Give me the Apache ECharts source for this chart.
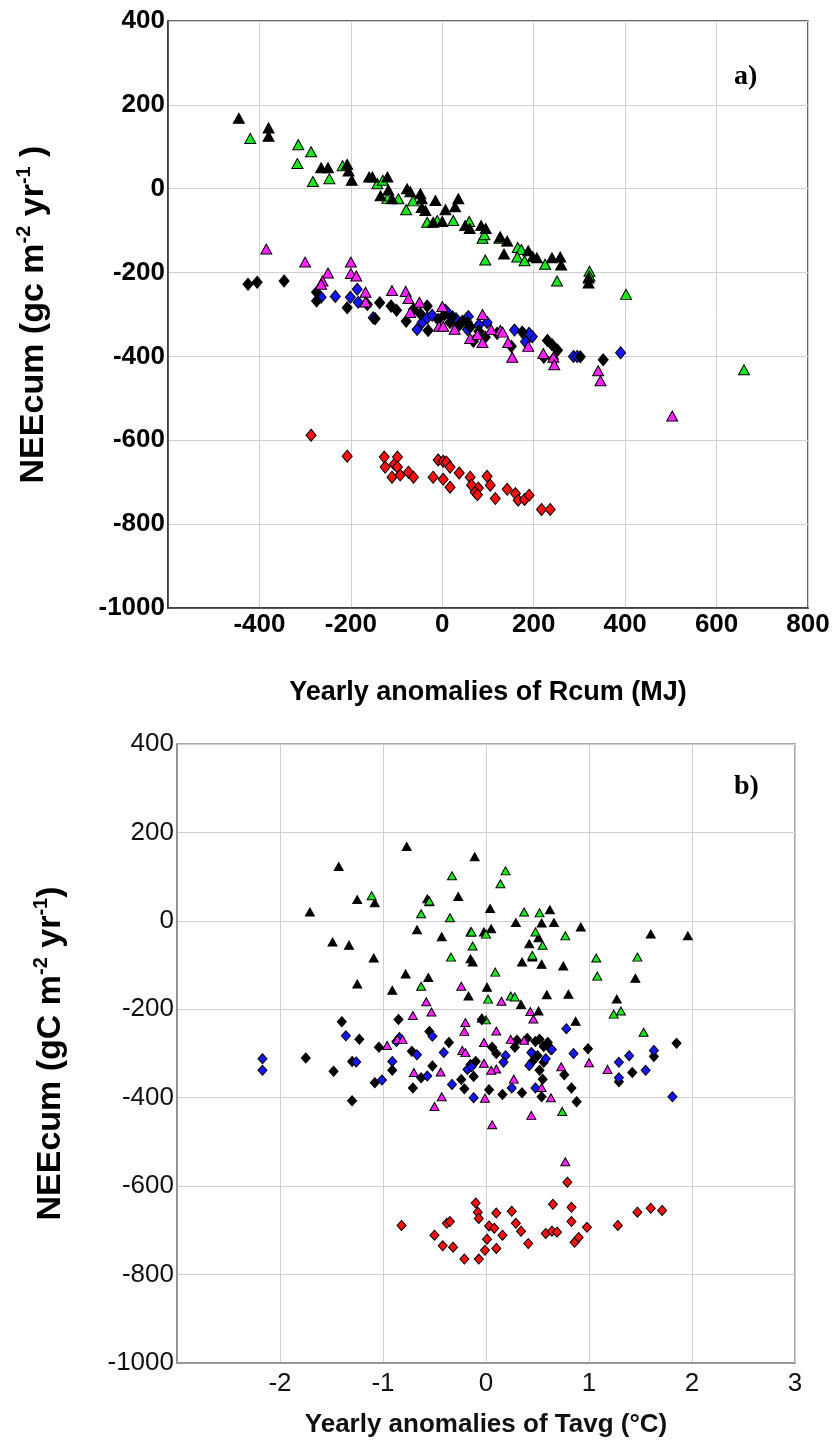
<!DOCTYPE html>
<html><head><meta charset="utf-8">
<script src="https://cdn.jsdelivr.net/npm/echarts@6/dist/echarts.min.js"></script>
<style>html,body{margin:0;padding:0;background:#fff}#c{width:833px;height:1442px}</style>
</head><body><div id="c"></div><script>
// Panel a: x = yearly anomalies of Rcum (MJ), y = NEEcum
const rcumBlackTri = [[-445,168],[-380,145],[-380,125],[-265,50],[-250,50],[-208,58],[-205,42],[-198,20],[-160,28],[-153,28],[-120,28],[-135,-17],[-118,-3],[-110,-24],[-77,0],[-70,-7],[-48,-12],[-45,-24],[-45,-45],[-37,-52],[-15,-28],[7,-50],[28,-43],[35,-24],[-20,-80],[0,-78],[50,-88],[60,-95],[85,-88],[95,-95],[127,-115],[142,-125],[135,-156],[188,-148],[198,-162],[207,-165],[240,-165],[258,-163],[260,-182],[320,-213],[320,-225]];
const rcumGreenTri = [[-420,120],[-315,105],[-317,60],[-287,88],[-283,17],[-247,24],[-218,55],[-142,12],[-130,20],[-120,-23],[-96,-24],[-79,-50],[-64,-29],[-33,-80],[-11,-76],[24,-76],[59,-78],[88,-118],[92,-110],[94,-170],[125,-118],[165,-140],[173,-145],[164,-163],[180,-172],[225,-180],[251,-220],[322,-197],[322,-208],[402,-252],[660,-432]];
const rcumMagentaTri = [[-385,-144],[-300,-175],[-250,-201],[-262,-220],[-265,-228],[-200,-175],[-200,-202],[-188,-208],[-168,-247],[-168,-270],[-110,-243],[-80,-245],[-74,-262],[-70,-295],[-50,-271],[0,-281],[-7,-328],[2,-328],[27,-335],[61,-357],[77,-348],[88,-300],[88,-367],[107,-336],[127,-338],[132,-342],[144,-367],[153,-402],[188,-376],[221,-393],[243,-402],[245,-420],[341,-434],[346,-458],[503,-542]];
const rcumBlackDia = [[-425,-228],[-405,-223],[-346,-220],[-275,-247],[-275,-268],[-208,-284],[-164,-276],[-137,-272],[-147,-310],[-112,-280],[-100,-290],[-79,-316],[-63,-288],[-48,-298],[-33,-280],[-31,-338],[-9,-312],[5,-300],[17,-319],[35,-328],[44,-316],[22,-305],[55,-319],[61,-330],[68,-364],[94,-354],[80,-340],[120,-345],[151,-376],[175,-342],[230,-362],[240,-372],[252,-385],[222,-402],[243,-406],[302,-401],[352,-408]];
const rcumBlueDia = [[-265,-259],[-234,-257],[-201,-259],[-186,-240],[-184,-271],[-151,-308],[-55,-336],[-44,-319],[-33,-308],[-22,-302],[7,-290],[11,-295],[30,-310],[57,-305],[55,-336],[98,-319],[80,-325],[158,-337],[182,-365],[197,-353],[190,-345],[287,-400],[295,-400],[390,-391]];
const rcumRedDia = [[-287,-588],[-208,-638],[-127,-640],[-125,-664],[-105,-657],[-98,-640],[-98,-664],[-110,-688],[-92,-683],[-74,-676],[-63,-688],[-20,-688],[-9,-647],[2,-650],[9,-652],[17,-664],[2,-693],[17,-712],[37,-678],[61,-688],[64,-707],[79,-714],[72,-724],[77,-730],[98,-686],[105,-707],[116,-739],[142,-717],[160,-727],[166,-743],[180,-741],[190,-731],[217,-765],[236,-765]];

// Panel b: x = yearly anomalies of Tavg (°C), y = NEEcum
const tavgBlackTri = [[-0.77,168],[-1.43,123],[-1.25,48],[-1.08,41],[-1.71,20],[-1.49,-48],[-1.33,-55],[-1.09,-84],[-0.78,-120],[-1.25,-143],[-0.91,-157],[-0.67,-20],[-0.11,145],[-0.57,50],[-0.55,43],[-0.27,55],[0.04,28],[-0.43,-36],[-0.15,-25],[-0.02,-25],[0.05,-18],[0.29,-4],[0.54,-5],[0.62,25],[0.66,-4],[0.92,-14],[0.42,-52],[0.51,-38],[0.35,-93],[0.45,-82],[0.54,-98],[0.75,-102],[-0.15,-86],[-0.13,-93],[1.60,-30],[1.96,-34],[1.45,-130],[-0.56,-128],[0.01,-150],[-0.17,-170],[1.27,-177],[0.59,-167],[0.80,-166],[0.34,-189],[0.51,-204],[0.87,-227],[-0.04,-220]];
const tavgGreenTri = [[-1.11,57],[-0.33,102],[0.19,113],[0.14,84],[-0.63,16],[-0.35,7],[-0.55,45],[0.37,20],[0.52,18],[-0.14,-25],[0.0,-30],[0.48,-25],[0.55,-55],[0.77,-34],[-0.13,-57],[-0.34,-82],[0.45,-78],[1.07,-84],[1.08,-125],[1.47,-82],[0.09,-116],[-0.63,-148],[0.02,-177],[0.24,-170],[0.28,-172],[1.24,-211],[1.31,-204],[0.0,-224],[1.53,-252],[0.74,-431]];
const tavgMagentaTri = [[-0.71,-214],[-0.96,-282],[-0.86,-268],[-0.70,-343],[-0.24,-148],[-0.58,-183],[-0.53,-206],[-0.20,-230],[-0.21,-250],[0.10,-249],[0.15,-182],[0.43,-205],[0.46,-222],[-0.02,-275],[0.24,-268],[0.37,-270],[-0.44,-342],[-0.23,-293],[-0.20,-298],[-0.43,-398],[-0.50,-420],[-0.02,-322],[0.10,-335],[0.05,-338],[-0.01,-401],[0.27,-358],[0.44,-440],[0.06,-461],[0.54,-377],[0.63,-400],[0.73,-330],[1.00,-321],[1.18,-336],[0.77,-545],[-0.81,-268]];
const tavgBlackDia = [[-1.40,-228],[-0.85,-223],[-1.23,-268],[-1.75,-310],[-1.30,-318],[-1.48,-340],[-1.04,-286],[-0.91,-338],[-1.08,-366],[-0.71,-378],[-1.30,-407],[-0.72,-295],[-0.55,-250],[-0.36,-275],[-0.52,-328],[-0.63,-355],[-0.21,-380],[-0.24,-359],[-0.15,-325],[-0.12,-352],[-0.10,-318],[0.03,-382],[0.16,-393],[0.06,-286],[0.10,-300],[0.30,-270],[0.40,-266],[0.45,-318],[0.35,-389],[0.45,-300],[0.52,-268],[0.56,-284],[0.60,-275],[0.50,-305],[0.52,-338],[0.55,-358],[0.54,-398],[0.83,-378],[0.88,-409],[0.99,-289],[0.76,-348],[0.63,-291],[1.29,-364],[1.42,-343],[1.63,-307],[1.85,-277],[-0.04,-223],[0.28,-286],[0.48,-273],[0.56,-320]];
const tavgBlueDia = [[-2.17,-312],[-2.17,-338],[-1.36,-260],[-1.26,-319],[-1.01,-360],[-0.91,-318],[-0.87,-273],[-0.84,-264],[-0.67,-303],[-0.52,-261],[-0.41,-298],[-0.57,-351],[-0.33,-370],[-0.18,-336],[-0.14,-330],[-0.12,-400],[0.19,-305],[0.17,-320],[0.25,-378],[0.48,-378],[0.42,-327],[0.44,-298],[0.58,-312],[0.64,-291],[0.78,-244],[0.85,-300],[1.29,-320],[1.29,-355],[1.39,-305],[1.55,-338],[1.63,-293],[1.81,-398]];
const tavgRedDia = [[-0.82,-689],[-0.38,-684],[-0.35,-680],[-0.50,-711],[-0.42,-735],[-0.32,-738],[-0.21,-765],[-0.07,-765],[-0.10,-638],[-0.08,-659],[-0.07,-673],[0.03,-690],[0.08,-695],[0.01,-720],[-0.01,-745],[0.10,-661],[0.16,-711],[0.10,-741],[0.25,-657],[0.29,-684],[0.34,-702],[0.41,-730],[0.65,-641],[0.58,-707],[0.64,-702],[0.69,-704],[0.79,-591],[0.83,-648],[0.83,-680],[0.98,-693],[0.86,-727],[0.90,-716],[1.28,-689],[1.47,-659],[1.60,-650],[1.71,-655]];

const xTitleA = 'Yearly anomalies of Rcum (MJ)';
const xTitleB = 'Yearly anomalies of Tavg (°C)';
const yTitleA = '{t|NEEcum (gc m}{s|-2}{t| yr}{s|-1}{t| )}';
const yTitleB = '{t|NEEcum (gC m}{s|-2}{t| yr}{s|-1}{t|)}';

const FONT = '"Liberation Sans", Arial, sans-serif';
const COL = {green:'#1ee61e', black:'#000000', magenta:'#ff22ff', blue:'#1515ff', red:'#ff1010'};

const chart = echarts.init(document.getElementById('c'), null, {renderer:'canvas'});
const fmt = v => String(v);
const yRich = {
  t:{fontSize:34, fontWeight:'bold', fontFamily:FONT, color:'#000', lineHeight:40},
  s:{fontSize:20, fontWeight:'bold', fontFamily:FONT, color:'#000', lineHeight:20, verticalAlign:'top'}
};
function sc(name, data, xi, sym, size, color){
  return {type:'scatter', name, data, xAxisIndex:xi, yAxisIndex:xi, symbol:sym, symbolSize:size,
    itemStyle:{color, borderColor:'#000', borderWidth:1, opacity:1}, emphasis:{disabled:true}, animation:false};
}
const triA=[11,10], diaA=[10,12], triB=[9,8], diaB=[9,10];
chart.setOption({
  animation:false,
  backgroundColor:'#fff',
  grid:[
    {left:168, top:21, width:640, height:587, show:true, borderColor:'#333', borderWidth:1.5},
    {left:177, top:744, width:618, height:619, show:true, borderColor:'#8a8a8a', borderWidth:1.5}
  ],
  xAxis:[
    {gridIndex:0, type:'value', min:-600, max:800, interval:200,
     axisLine:{show:true, onZero:false, lineStyle:{color:'#333', width:1.5}}, axisTick:{show:false},
     splitLine:{show:true, lineStyle:{color:'#d0d0d0', width:1}},
     axisLabel:{showMinLabel:false, formatter:fmt, fontFamily:FONT, fontWeight:'bold', fontSize:26, color:'#000', margin:4},
     name:xTitleA, nameLocation:'middle', nameGap:71,
     nameTextStyle:{fontFamily:FONT, fontWeight:'bold', fontSize:27, color:'#000'}},
    {gridIndex:1, type:'value', min:-3, max:3, interval:1,
     axisLine:{show:true, onZero:false, lineStyle:{color:'#8a8a8a', width:1.5}}, axisTick:{show:false},
     splitLine:{show:true, lineStyle:{color:'#d0d0d0', width:1}},
     axisLabel:{showMinLabel:false, formatter:fmt, fontFamily:FONT, fontSize:26, color:'#111', margin:8},
     name:xTitleB, nameLocation:'middle', nameGap:49,
     nameTextStyle:{fontFamily:FONT, fontWeight:'bold', fontSize:26, color:'#111'}}
  ],
  yAxis:[
    {gridIndex:0, type:'value', min:-1000, max:400, interval:200,
     axisLine:{show:true, onZero:false, lineStyle:{color:'#333', width:1.5}}, axisTick:{show:false},
     splitLine:{show:true, lineStyle:{color:'#d0d0d0', width:1}},
     axisLabel:{formatter:fmt, fontFamily:FONT, fontWeight:'bold', fontSize:26, color:'#000', margin:3},
     name:yTitleA, nameLocation:'middle', nameRotate:90, nameGap:114,
     nameTextStyle:{rich:yRich}},
    {gridIndex:1, type:'value', min:-1000, max:400, interval:200,
     axisLine:{show:true, onZero:false, lineStyle:{color:'#8a8a8a', width:1.5}}, axisTick:{show:false},
     splitLine:{show:true, lineStyle:{color:'#d0d0d0', width:1}},
     axisLabel:{formatter:fmt, fontFamily:FONT, fontSize:26, color:'#111', margin:3},
     name:yTitleB, nameLocation:'middle', nameRotate:90, nameGap:106,
     nameTextStyle:{rich:yRich}}
  ],
  graphic:[
    {type:'text', left:734, top:63, style:{text:'a)', font:'bold 28px "Liberation Serif", "Times New Roman", serif', fill:'#000'}},
    {type:'text', left:734, top:773, style:{text:'b)', font:'bold 28px "Liberation Serif", "Times New Roman", serif', fill:'#000'}}
  ],
  series:[
    sc('a green tri', rcumGreenTri, 0, 'triangle', triA, COL.green),
    sc('a black tri', rcumBlackTri, 0, 'triangle', triA, COL.black),
    sc('a blue dia', rcumBlueDia, 0, 'diamond', diaA, COL.blue),
    sc('a black dia', rcumBlackDia, 0, 'diamond', diaA, COL.black),
    sc('a magenta tri', rcumMagentaTri, 0, 'triangle', triA, COL.magenta),
    sc('a red dia', rcumRedDia, 0, 'diamond', diaA, COL.red),
    sc('b black tri', tavgBlackTri, 1, 'triangle', triB, COL.black),
    sc('b green tri', tavgGreenTri, 1, 'triangle', triB, COL.green),
    sc('b black dia', tavgBlackDia, 1, 'diamond', diaB, COL.black),
    sc('b blue dia', tavgBlueDia, 1, 'diamond', diaB, COL.blue),
    sc('b magenta tri', tavgMagentaTri, 1, 'triangle', triB, COL.magenta),
    sc('b red dia', tavgRedDia, 1, 'diamond', diaB, COL.red)
  ]
});
</script></body></html>
